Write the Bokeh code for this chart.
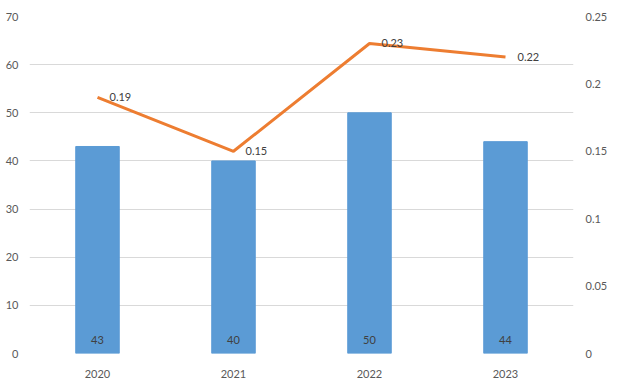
from bokeh.plotting import figure
from bokeh.models import ColumnDataSource, Range1d, LinearAxis, FactorRange, FixedTicker, LabelSet
from bokeh.embed import file_html
from bokeh.resources import INLINE
from bokeh.core.properties import value

years = ["2020", "2021", "2022", "2023"]
bar_values = [43, 40, 50, 44]
line_values = [0.19, 0.15, 0.23, 0.22]
left_ticks = [0, 10, 20, 30, 40, 50, 60, 70]
right_ticks = [0, 0.05, 0.1, 0.15, 0.2, 0.25]

FONT = "Lato"
src = ColumnDataSource(dict(
    year=years, bar=bar_values, line=line_values,
    bar_lbl=[str(v) for v in bar_values],
    line_lbl=[str(v) for v in line_values],
    base=[0] * len(years),
))

p = figure(width=627, height=384, x_range=FactorRange(*years, range_padding=0),
           y_range=Range1d(0, 70), output_backend="svg", toolbar_location=None,
           min_border_left=29, min_border_right=54, min_border_top=16, min_border_bottom=31)
p.outline_line_color = None
p.extra_y_ranges = {"r": Range1d(0, 0.25)}

p.vbar(x="year", top="bar", width=0.32, source=src, color="#5B9BD5")
p.line(x="year", y="line", y_range_name="r", source=src, line_color="#ED7D31", line_width=3)

bl = LabelSet(x="year", y="base", text="bar_lbl", source=src, x_offset=0, y_offset=14,
              text_align="center", text_baseline="middle", text_font=value(FONT),
              text_font_size="11px", text_color="#404040")
p.add_layout(bl)
ll = LabelSet(x="year", y="line", y_range_name="r", text="line_lbl", source=src, x_offset=12,
              y_offset=0, text_align="left", text_baseline="middle", text_font=value(FONT),
              text_font_size="11px", text_color="#404040")
p.add_layout(ll)

p.yaxis.ticker = FixedTicker(ticks=left_ticks)
p.ygrid.ticker = FixedTicker(ticks=left_ticks)
p.ygrid.grid_line_color = "#D9D9D9"
p.xgrid.grid_line_color = None

ra = LinearAxis(y_range_name="r", ticker=FixedTicker(ticks=right_ticks))
p.add_layout(ra, "right")

for ax in [p.yaxis[0], ra, p.xaxis[0]]:
    ax.axis_line_color = None
    ax.major_tick_line_color = None
    ax.minor_tick_line_color = None
    ax.major_tick_out = 0
    ax.major_tick_in = 0
    ax.minor_tick_out = 0
    ax.major_label_text_font = FONT
    ax.major_label_text_font_size = "11px"
    ax.major_label_text_color = "#595959"
p.yaxis[0].major_label_standoff = 11
ra.major_label_standoff = 12
p.xaxis[0].major_label_standoff = 16

open("out.html", "w").write(file_html(p, INLINE))
